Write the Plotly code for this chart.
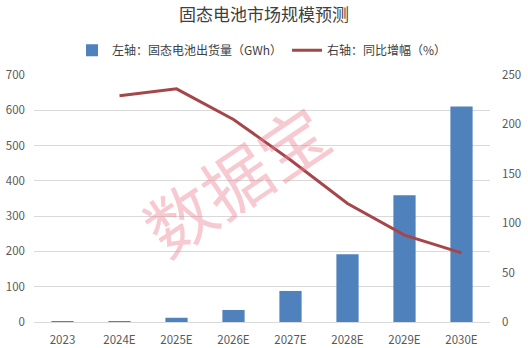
import plotly.graph_objects as go

# Solid-state battery market forecast
years = ["2023", "2024E", "2025E", "2026E", "2027E", "2028E", "2029E", "2030E"]
shipments_gwh = [1.5, 2, 12, 34, 88, 192, 359, 611]
yoy_growth_pct = [None, 229, 236, 205, 164, 120, 88, 70]

FONT = "Noto Sans CJK SC"
TICK_COLOR = "#595959"
GRID_COLOR = "#d9d9d9"

fig = go.Figure()

fig.add_trace(go.Bar(
    x=years, y=shipments_gwh,
    name="左轴：固态电池出货量（GWh）",
    marker=dict(color="#4F81BD", line=dict(width=0)),
    yaxis="y",
))

fig.add_trace(go.Scatter(
    x=years, y=yoy_growth_pct,
    name="右轴：同比增幅（%）",
    mode="lines",
    line=dict(color="#A5474A", width=3),
    yaxis="y2",
    connectgaps=False,
))

fig.update_layout(
    width=528, height=348,
    margin=dict(l=34, r=38, t=75, b=26),
    paper_bgcolor="white",
    plot_bgcolor="white",
    font=dict(family=FONT, color=TICK_COLOR, size=11),
    bargap=0.61,
    showlegend=True,
    title=dict(
        text="固态电池市场规模预测",
        x=0.5, xanchor="center",
        y=0.957, yanchor="middle",
        font=dict(family=FONT, size=17, color="#404040"),
    ),
    legend=dict(
        orientation="h",
        x=0.5, xanchor="center",
        y=1.10, yanchor="middle",
        font=dict(family=FONT, size=12, color="#404040"),
        itemwidth=30,
        tracegroupgap=0,
        bgcolor="rgba(0,0,0,0)",
    ),
    xaxis=dict(
        type="category",
        automargin=False,
        showgrid=False,
        showline=True, linecolor=GRID_COLOR, linewidth=1,
        ticks="",
        ticklabelstandoff=7,
        tickfont=dict(size=11.5, color=TICK_COLOR),
    ),
    yaxis=dict(
        range=[0, 700], dtick=100,
        automargin=False,
        showgrid=True, gridcolor=GRID_COLOR, gridwidth=1,
        zeroline=False, showline=False, ticks="",
        ticklabelstandoff=8,
        tickfont=dict(size=11.5, color=TICK_COLOR),
    ),
    yaxis2=dict(
        range=[0, 250], dtick=50,
        automargin=False,
        overlaying="y", side="right",
        showgrid=False, zeroline=False, showline=False, ticks="",
        ticklabelstandoff=11,
        tickfont=dict(size=11.5, color=TICK_COLOR),
    ),
)

# Publisher watermark
fig.add_annotation(
    text="数据宝",
    xref="paper", yref="paper",
    x=0.44, y=0.58,
    showarrow=False,
    textangle=-34,
    font=dict(family=FONT, size=68, color="rgba(236,120,140,0.40)"),
)

fig.write_html("out.html")
